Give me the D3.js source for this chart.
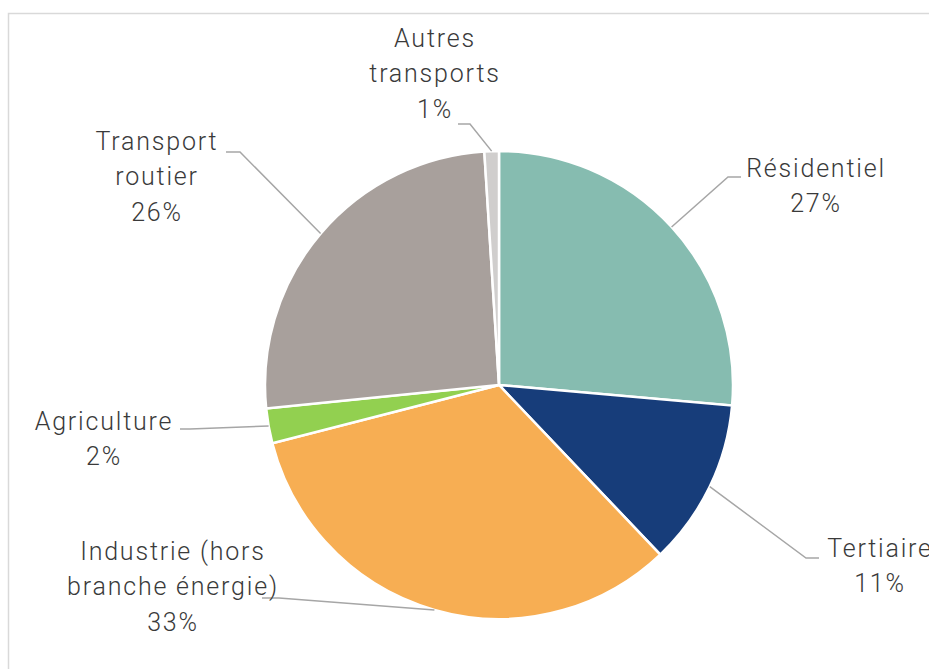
<!DOCTYPE html>
<html>
<head>
<meta charset="utf-8">
<script src="https://cdn.jsdelivr.net/npm/d3@7"></script>
<style>
  body { margin: 0; background: #fff; }
  svg { display: block; }
  .lbl { font-family: Roboto, "Noto Sans", sans-serif; font-size: 25px; font-weight: 300; letter-spacing: 1.8px; fill: #3a3a3a; }
</style>
</head>
<body>
<svg id="chart" width="929" height="669"></svg>
<script>
// Data
const categories = ['Résidentiel', 'Tertiaire', 'Industrie (hors branche énergie)', 'Agriculture', 'Transport routier', 'Autres transports'];
const values = [26.4, 11.5, 33.1, 2.4, 25.6, 1.0];
const percentLabels = ['27%', '11%', '33%', '2%', '26%', '1%'];
const labelLines = [
    ['Résidentiel'],
    ['Tertiaire'],
    ['Industrie (hors', 'branche énergie)'],
    ['Agriculture'],
    ['Transport', 'routier'],
    ['Autres', 'transports']
];
const colors = ['#86bcb0', '#173d7a', '#f7ae53', '#92d050', '#a8a09c', '#d0cecd'];

// label layout: text centre, leader elbow and end
const labelPos = [
    { x: 816, y: 168, elbow: [728, 177], end: [741, 177] },
    { x: 880, y: 548, elbow: [806, 558], end: [819, 558] },
    { x: 173, y: 551, elbow: [279, 598], end: [262, 598] },
    { x: 104, y: 421, elbow: [190, 429], end: [180, 429] },
    { x: 157, y: 141, elbow: [240, 152], end: [226, 152] },
    { x: 435, y: 38, elbow: [470, 124], end: [458, 124] }
];

const svg = d3.select('#chart');
const cx = 499, cy = 385, r = 234;

// outer frame
svg.append('rect')
    .attr('x', 8.5).attr('y', 13.5)
    .attr('width', 940).attr('height', 680)
    .attr('fill', 'none')
    .attr('stroke', '#d9d9d9')
    .attr('stroke-width', 1.5);

const pie = d3.pie().sort(null).value(d => d);
const arcs = pie(values);
const arc = d3.arc().innerRadius(0).outerRadius(r);

const g = svg.append('g').attr('transform', `translate(${cx},${cy})`);

g.selectAll('path')
    .data(arcs)
    .join('path')
    .attr('d', arc)
    .attr('fill', (d, i) => colors[i])
    .attr('stroke', '#fff')
    .attr('stroke-width', 2.5);

// leader lines: start at the slice edge, at mid-angle
const leaderArc = d3.arc().innerRadius(r).outerRadius(r);
svg.append('g')
    .selectAll('polyline')
    .data(arcs)
    .join('polyline')
    .attr('points', (d, i) => {
        const p = leaderArc.centroid(d);
        const lp = labelPos[i];
        return [[p[0] + cx, p[1] + cy], lp.elbow, lp.end].map(q => q.join(',')).join(' ');
    })
    .attr('fill', 'none')
    .attr('stroke', '#a6a6a6')
    .attr('stroke-width', 1.5);

// labels
const lineH = 35.5;
const labels = svg.append('g')
    .selectAll('text')
    .data(arcs)
    .join('text')
    .attr('class', 'lbl')
    .attr('text-anchor', 'middle')
    .attr('x', (d, i) => labelPos[i].x)
    .attr('y', (d, i) => labelPos[i].y);

labels.each(function(d, i) {
    const t = d3.select(this);
    const lines = labelLines[i].concat([percentLabels[i]]);
    lines.forEach((s, k) => {
        t.append('tspan')
            .attr('x', labelPos[i].x)
            .attr('dy', k === 0 ? '0.35em' : lineH)
            .text(s);
    });
});
</script>
</body>
</html>
